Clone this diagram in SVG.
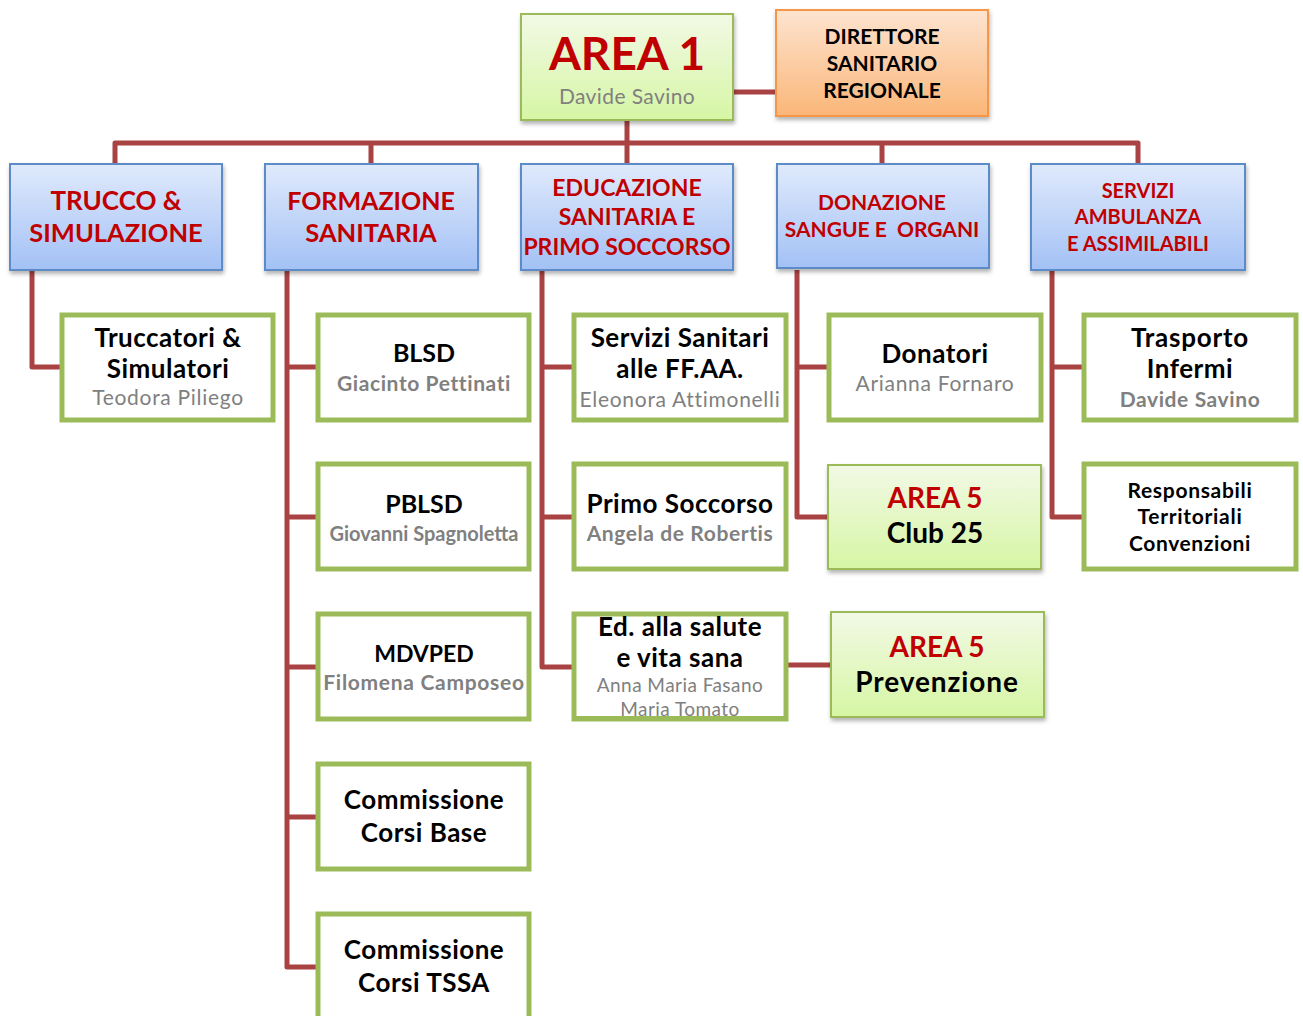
<svg xmlns="http://www.w3.org/2000/svg" width="1303" height="1016" viewBox="0 0 1303 1016">
<defs>
<linearGradient id="gGreen" x1="0" y1="0" x2="0" y2="1"><stop offset="0" stop-color="#f2f9e6"/><stop offset="1" stop-color="#d6f6a4"/></linearGradient>
<linearGradient id="gOrange" x1="0" y1="0" x2="0" y2="1"><stop offset="0" stop-color="#fde4d0"/><stop offset="1" stop-color="#fab678"/></linearGradient>
<linearGradient id="gBlue" x1="0" y1="0" x2="0" y2="1"><stop offset="0" stop-color="#e0eafc"/><stop offset="1" stop-color="#a3c1f5"/></linearGradient>
<filter id="sh" x="-10%" y="-10%" width="120%" height="130%"><feDropShadow dx="1" dy="3" stdDeviation="2" flood-color="#000" flood-opacity="0.3"/></filter>
<style>
text{font-family:Lato,"Liberation Sans",sans-serif;text-anchor:middle;font-weight:bold}
.red{fill:#c00000}
.blk{fill:#000}
.bl{fill:#000;font-size:26px;letter-spacing:0.5px}
.gr{fill:#808080;font-weight:normal;letter-spacing:0.7px}
.grb{fill:#808080;letter-spacing:0.6px}
.green{fill:url(#gGreen);stroke:#9bbb59;stroke-width:2}
.orange{fill:url(#gOrange);stroke:#f79646;stroke-width:2}
.blue{fill:url(#gBlue);stroke:#5b8bc8;stroke-width:2}
.white{fill:#fff;stroke:#9bbb59;stroke-width:5}
.con{fill:none;stroke:#a94343;stroke-width:5;stroke-linejoin:round}
</style>
</defs>
<g id="connectors">
<path class="con" d="M733 92H776"/>
<path class="con" d="M627 120V165M115 165V143H1138V165M371 143V165M882 143V165"/>
<path class="con" d="M32 270V367H61"/>
<path class="con" d="M287 270V967H317M287 367H317M287 517H317M287 667H317M287 817H317"/>
<path class="con" d="M542 270V667H573M542 367H573M542 517H573"/>
<path class="con" d="M797 270V517H828M797 367H828"/>
<path class="con" d="M1052 270V517H1083M1052 367H1083"/>
<path class="con" d="M787 665H831"/>
</g>
<g id="area1"><rect class="green" x="521" y="14" width="212" height="106" filter="url(#sh)"/><text class="red" x="627" y="70" font-size="46">AREA 1</text><text class="gr" x="627" y="104" font-size="21" style="letter-spacing:0.4px">Davide Savino</text></g>
<g id="direttore"><rect class="orange" x="776" y="10" width="212" height="106" filter="url(#sh)"/><text class="blk" x="882" y="44" font-size="21">DIRETTORE</text><text class="blk" x="882" y="71" font-size="21">SANITARIO</text><text class="blk" x="882" y="98" font-size="21">REGIONALE</text></g>
<g id="trucco"><rect class="blue" x="10" y="164" width="212" height="106" filter="url(#sh)"/><text class="red" x="116" y="210" font-size="26">TRUCCO &amp;</text><text class="red" x="116" y="242" font-size="25.5">SIMULAZIONE</text></g>
<g id="formazione"><rect class="blue" x="265" y="164" width="213" height="106" filter="url(#sh)"/><text class="red" x="371" y="210" font-size="25">FORMAZIONE</text><text class="red" x="371" y="242" font-size="25.5">SANITARIA</text></g>
<g id="educazione"><rect class="blue" x="521" y="164" width="212" height="106" filter="url(#sh)"/><text class="red" x="627" y="196" font-size="23">EDUCAZIONE</text><text class="red" x="627" y="225" font-size="23">SANITARIA E</text><text class="red" x="627" y="255" font-size="23">PRIMO SOCCORSO</text></g>
<g id="donazione"><rect class="blue" x="777" y="164" width="212" height="104" filter="url(#sh)"/><text class="red" x="882" y="210" font-size="21">DONAZIONE</text><text class="red" x="882" y="237" font-size="21" xml:space="preserve">SANGUE E  ORGANI</text></g>
<g id="servizi"><rect class="blue" x="1031" y="164" width="214" height="106" filter="url(#sh)"/><text class="red" x="1138" y="198" font-size="20">SERVIZI</text><text class="red" x="1138" y="224" font-size="20">AMBULANZA</text><text class="red" x="1138" y="251" font-size="20">E ASSIMILABILI</text></g>
<g id="truccatori"><rect class="white" x="62" y="315" width="211" height="105"/><text class="bl" x="168" y="347">Truccatori &amp;</text><text class="bl" x="168" y="378">Simulatori</text><text class="gr" x="168" y="405" font-size="21">Teodora Piliego</text></g>
<g id="blsd"><rect class="white" x="318" y="315" width="211" height="105"/><text class="blk" x="424" y="362" font-size="25">BLSD</text><text class="grb" x="424" y="391" font-size="21">Giacinto Pettinati</text></g>
<g id="servsan"><rect class="white" x="574" y="315" width="212" height="105"/><text class="bl" x="680" y="347">Servizi Sanitari</text><text class="bl" x="680" y="378">alle FF.AA.</text><text class="gr" x="680" y="407" font-size="21">Eleonora Attimonelli</text></g>
<g id="donatori"><rect class="white" x="829" y="315" width="212" height="105"/><text class="bl" x="935" y="363">Donatori</text><text class="gr" x="935" y="391" font-size="21">Arianna Fornaro</text></g>
<g id="trasporto"><rect class="white" x="1084" y="315" width="212" height="105"/><text class="bl" x="1190" y="347" style="letter-spacing:0.8px">Trasporto</text><text class="bl" x="1190" y="378">Infermi</text><text class="grb" x="1190" y="407" font-size="21">Davide Savino</text></g>
<g id="pblsd"><rect class="white" x="318" y="464" width="211" height="105"/><text class="blk" x="424" y="513" font-size="25">PBLSD</text><text class="grb" x="424" y="541" font-size="20" style="letter-spacing:0">Giovanni Spagnoletta</text></g>
<g id="primosoccorso"><rect class="white" x="574" y="464" width="212" height="105"/><text class="bl" x="680" y="513">Primo Soccorso</text><text class="grb" x="680" y="541" font-size="21">Angela de Robertis</text></g>
<g id="club25"><rect class="green" x="828" y="465" width="213" height="104" filter="url(#sh)"/><text class="red" x="935" y="508" font-size="28">AREA 5</text><text class="blk" x="935" y="543" font-size="28">Club 25</text></g>
<g id="responsabili"><rect class="white" x="1084" y="464" width="212" height="105"/><text class="blk" x="1190" y="498" font-size="21" style="letter-spacing:0.7px">Responsabili</text><text class="blk" x="1190" y="524" font-size="21" style="letter-spacing:0.7px">Territoriali</text><text class="blk" x="1190" y="551" font-size="21" style="letter-spacing:0.6px">Convenzioni</text></g>
<g id="mdvped"><rect class="white" x="318" y="614" width="211" height="105"/><text class="blk" x="424" y="662" font-size="23">MDVPED</text><text class="grb" x="424" y="690" font-size="21" style="letter-spacing:0.7px">Filomena Camposeo</text></g>
<g id="edsalute"><rect class="white" x="574" y="614" width="212" height="105"/><text class="bl" x="680" y="636">Ed. alla salute</text><text class="bl" x="680" y="667">e vita sana</text><text class="gr" x="680" y="692" font-size="19" style="letter-spacing:0.45px">Anna Maria Fasano</text><text class="gr" x="680" y="716" font-size="19" style="letter-spacing:0.45px">Maria Tomato</text><rect x="574" y="716" width="212" height="3" fill="#9bbb59"/></g>
<g id="prevenzione"><rect class="green" x="831" y="612" width="213" height="105" filter="url(#sh)"/><text class="red" x="937" y="657" font-size="28">AREA 5</text><text class="blk" x="937" y="692" font-size="28" style="letter-spacing:0.9px">Prevenzione</text></g>
<g id="corsibase"><rect class="white" x="318" y="764" width="211" height="105"/><text class="bl" x="424" y="809">Commissione</text><text class="bl" x="424" y="842">Corsi Base</text></g>
<g id="corsitssa"><rect class="white" x="318" y="914" width="211" height="110"/><text class="bl" x="424" y="959">Commissione</text><text class="bl" x="424" y="992">Corsi TSSA</text></g>
</svg>
